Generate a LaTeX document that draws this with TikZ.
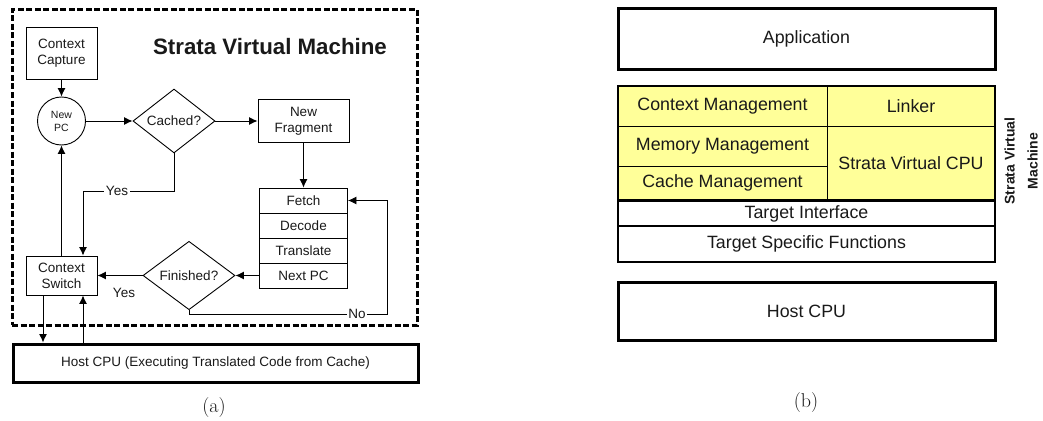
\documentclass[tikz,border=0pt]{standalone}
\usepackage{fontspec}
\newfontfamily\arial{Liberation Sans}
\usetikzlibrary{arrows.meta,shapes.geometric}
\definecolor{stratayellow}{RGB}{255,255,153}
\definecolor{ink}{RGB}{25,25,25}
\begin{document}
\begin{tikzpicture}[x=1pt,y=-1pt,
  every node/.style={text=ink},
  box/.style={draw=black, line width=0.9pt, inner sep=0pt, align=center,
    font=\arial\fontsize{13.5}{16}\selectfont},
  pcnode/.style={draw=black, circle, line width=0.9pt, inner sep=0pt, align=center,
    minimum size=48, font=\arial\fontsize{10.5}{13}\selectfont},
  dia/.style={draw=black, diamond, line width=0.9pt, inner sep=0pt, align=center,
    font=\arial\fontsize{13.5}{16}\selectfont},
  vmframe/.style={draw=black, line width=3pt, dash pattern=on 6pt off 2.5pt},
  hostbox/.style={draw=black, line width=3pt, inner sep=0pt,
    font=\arial\fontsize{13.5}{16}\selectfont},
  titlestyle/.style={font=\arial\bfseries\fontsize{22.3}{26}\selectfont},
  lbl/.style={fill=white, inner sep=1.5pt, font=\arial\fontsize{13.5}{16}\selectfont},
  lblplain/.style={inner sep=1pt, font=\arial\fontsize{13.5}{16}\selectfont},
  arr/.style={draw=black, line width=0.9pt, -{Latex[length=8.5pt,width=8pt]}},
  cell/.style={draw=black, line width=0.9pt, fill=stratayellow, inner sep=0pt,
    align=center, font=\arial\fontsize{17.8}{21}\selectfont},
  layer/.style={draw=black, line width=2.5pt, inner sep=0pt, minimum width=377,
    font=\arial\fontsize{17.8}{21}\selectfont},
  bigframe/.style={draw=black, line width=2.5pt, inner sep=0pt},
  vlabel/.style={align=center, inner sep=0pt, font=\arial\bfseries\fontsize{14}{23}\selectfont},
  capstyle/.style={inner sep=0pt, font=\fontsize{20}{24}\selectfont}
]
\useasboundingbox (0,0) rectangle (1043,420);

% ---------------- (a) ----------------
\node[vmframe, minimum width=405, minimum height=315] (svm) at (214.5,167.5) {};
\node[titlestyle] (title) at (270,47) {Strata Virtual Machine};

\node[box, minimum width=71, minimum height=52] (ccap) at (61.5,53) {Context\\Capture};
\node[pcnode] (newpc) at (61.5,121) {New\\PC};
\node[dia, minimum width=82, minimum height=58] (cached) at (174,121) {Cached?};
\node[box, minimum width=91, minimum height=43] (newfrag) at (303.5,121) {New\\Fragment};

\node[box, minimum width=88, minimum height=25] (fetch) at (303.5,200.5) {Fetch};
\node[box, minimum width=88, minimum height=25] (decode) at (303.5,225.5) {Decode};
\node[box, minimum width=88, minimum height=25] (translate) at (303.5,250.5) {Translate};
\node[box, minimum width=88, minimum height=25] (nextpc) at (303.5,275.5) {Next PC};

\node[dia, minimum width=92, minimum height=58] (finished) at (189,275.5) {Finished?};
\node[box, minimum width=71, minimum height=39] (cswitch) at (61.5,275.5) {Context\\Switch};

\node[hostbox, minimum width=405, minimum height=38] (hostA) at (215.5,363)
  {Host CPU (Executing Translated Code from Cache)};

\draw[arr] (ccap) -- (newpc);
\draw[arr] (newpc) -- (cached);
\draw[arr] (cached) -- (newfrag);
\draw[arr] (newfrag) -- (fetch);
\coordinate (yturn) at (83,191);
\draw[arr] (cached.south) |- (yturn) -- (yturn |- cswitch.north);
\node[lbl] (yes1) at (117,191) {Yes};
\draw[arr] (cswitch.north) -- (newpc.south);
\draw[arr] (nextpc.west) -- (finished.east);
\draw[arr] (finished.west) -- (cswitch.east);
\node[lblplain] (yes2) at (124,293) {Yes};
\coordinate (nocorner) at (387,314);
\draw[arr] (finished.south) |- (nocorner) |- (fetch.east);
\node[lbl] (no) at (357,314) {No};
\coordinate (csout) at (43,0);
\coordinate (csin) at (83,0);
\draw[arr] (cswitch.south -| csout) -- (hostA.north -| csout);
\draw[arr] (hostA.north -| csin) -- (cswitch.south -| csin);

\node[capstyle] (capa) at (214,408) {(a)};

% ---------------- (b) ----------------
\node[layer, line width=3pt, minimum height=60] (app) at (806.5,39) {Application};

\node[cell, minimum width=209, minimum height=40] (ctxm) at (722.5,106) {Context Management};
\node[cell, minimum width=209, minimum height=40] (memm) at (722.5,146) {Memory Management};
\node[cell, minimum width=209, minimum height=34] (cachem) at (722.5,183) {Cache Management};
\node[cell, minimum width=168, minimum height=40] (linker) at (911,106) {Linker};
\node[cell, minimum width=168, minimum height=74] (vcpu) at (911,163) {Strata Virtual CPU};
\node[bigframe, minimum width=377, minimum height=114] (svmblk) at (806.5,143) {};

\node[layer, minimum height=25] (ti) at (806.5,213.5) {Target Interface};
\node[layer, minimum height=36] (tsf) at (806.5,244) {Target Specific Functions};

\node[layer, line width=3pt, minimum height=58] (hostB) at (806.5,311) {Host CPU};

\node[vlabel, rotate=90] (vlab) at (1021,161) {Strata Virtual\\Machine};

\node[capstyle] (capb) at (806,403) {(b)};
\end{tikzpicture}
\end{document}
